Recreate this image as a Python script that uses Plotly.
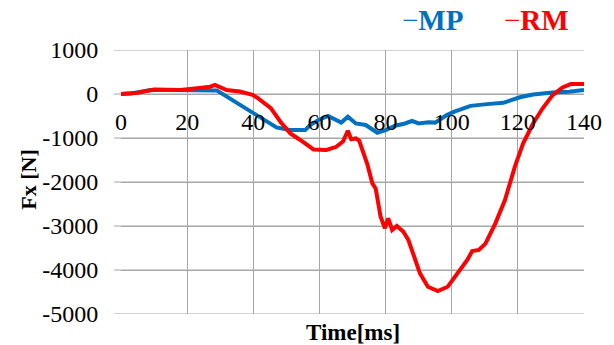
import plotly.graph_objects as go

# ---- data ----
t_mp = [0, 3, 6, 9, 15, 20, 25, 29, 32, 35, 38, 40, 43, 47, 51, 55.7, 57.2, 59.7,
        62.6, 65.1, 66.6, 68.6, 71, 74, 77.5, 80, 82.9, 85.9, 88, 90, 93, 95, 96.8,
        98.5, 100.8, 103, 105.7, 110.7, 115.6, 118, 120.6, 124.6, 128, 130.5, 135.5, 140]
fx_mp = [0, 10, 50, 90, 90, 80, 80, 80, -60, -200, -330, -425, -580, -760, -820, -820,
         -705, -590, -500, -590, -650, -515, -670, -705, -880, -820, -720, -670, -610,
         -670, -640, -650, -555, -480, -400, -340, -270, -230, -200, -140, -75, -10, 20,
         35, 50, 90]

t_rm = [0, 5, 10, 15, 18, 23, 27, 28.4, 30, 31.9, 35.9, 38, 39.8, 41.3, 42.8, 45.3,
        48.2, 51.2, 54.2, 58.2, 62.1, 65.1, 67.1, 68.6, 69.6, 71, 72, 73, 74.5, 76, 77,
        78.5, 79.8, 80.8, 82, 83.4, 85.4, 86.9, 88.4, 90.4, 92.8, 95.8, 98.8, 101.8,
        104.7, 106.2, 108.2, 110.2, 113.2, 116.1, 119.1, 121.6, 124.6, 127.5, 130.5,
        133.5, 136, 140]
fx_rm = [0, 30, 100, 100, 90, 130, 165, 205, 160, 90, 55, 20, -20, -90, -175, -320,
         -630, -895, -1045, -1260, -1270, -1200, -1080, -835, -1030, -1010, -1060, -1270,
         -1600, -2030, -2145, -2790, -3050, -2825, -3090, -3000, -3130, -3320, -3620,
         -4075, -4380, -4480, -4380, -4075, -3770, -3570, -3545, -3400, -2940, -2410,
         -1650, -1120, -670, -325, -25, 150, 225, 225]

x_ticks = [0, 20, 40, 60, 80, 100, 120, 140]
y_ticks = [1000, 0, -1000, -2000, -3000, -4000, -5000]

series_names = ["MP", "RM"]
colors = ["#0070C0", "#FF0000"]

FONT = "Liberation Serif"
GRID = "#A6A6A6"

fig = go.Figure()
fig.add_trace(go.Scatter(x=t_mp, y=fx_mp, mode="lines", name=series_names[0],
                         line=dict(color=colors[0], width=4)))
fig.add_trace(go.Scatter(x=t_rm, y=fx_rm, mode="lines", name=series_names[1],
                         line=dict(color=colors[1], width=4)))

y0_frac = (0 - y_ticks[-1]) / (y_ticks[0] - y_ticks[-1])

fig.update_layout(
    width=614, height=345,
    margin=dict(l=121, r=22, t=50, b=31),
    paper_bgcolor="white", plot_bgcolor="rgba(0,0,0,0)",
    showlegend=False,
    font=dict(family=FONT, size=23, color="black"),
    xaxis=dict(range=[x_ticks[0], x_ticks[-1]], tickvals=x_ticks,
               ticktext=[str(v) for v in x_ticks],
               anchor="free", position=y0_frac,
               showgrid=True, gridcolor=GRID, zeroline=False, showline=False,
               ticks="outside", ticklen=6, tickcolor="rgba(0,0,0,0)",
               tickfont=dict(family=FONT, size=24, color="black")),
    yaxis=dict(range=[y_ticks[-1], y_ticks[0]], tickvals=y_ticks,
               ticktext=[str(v) for v in y_ticks],
               showgrid=True, gridcolor=GRID, zeroline=False, showline=False,
               ticks="outside", ticklen=17, tickcolor="rgba(0,0,0,0)",
               tickfont=dict(family=FONT, size=24, color="black")),
)

# horizontal grid lines (with the short outside tick stubs) at each y tick value,
# drawn beneath the curves (plot background is transparent so they stay visible)
stub = -7 / 471
for v in y_ticks:
    fig.add_shape(type="line", xref="paper", yref="y", x0=stub, x1=1, y0=v, y1=v,
                  line=dict(color=GRID, width=1), layer="below")

# axis titles (the x labels run along y = 0, so the titles are placed explicitly)
fig.add_annotation(text="<b>Time[ms]</b>", x=0.5, y=0, xref="paper", yref="paper",
                   xanchor="center", yanchor="top", yshift=-4, showarrow=False,
                   font=dict(family=FONT, size=23, color="black"))
fig.add_annotation(text="<b>Fx [N]</b>", x=-0.2, y=0.51, xref="paper", yref="paper",
                   xanchor="center", yanchor="middle", textangle=-90, showarrow=False,
                   font=dict(family=FONT, size=22, color="black"))

# legend drawn as coloured text, as in the reference
legend_x = [0.603, 0.822]
for name, col, lx in zip(series_names, colors, legend_x):
    fig.add_annotation(text="\u2212<b>" + name + "</b>", x=lx, y=1.0, xref="paper",
                       yref="paper", xanchor="left", yanchor="bottom", yshift=12,
                       showarrow=False,
                       font=dict(family=FONT, size=29, color=col))

fig.write_html("out.html")
